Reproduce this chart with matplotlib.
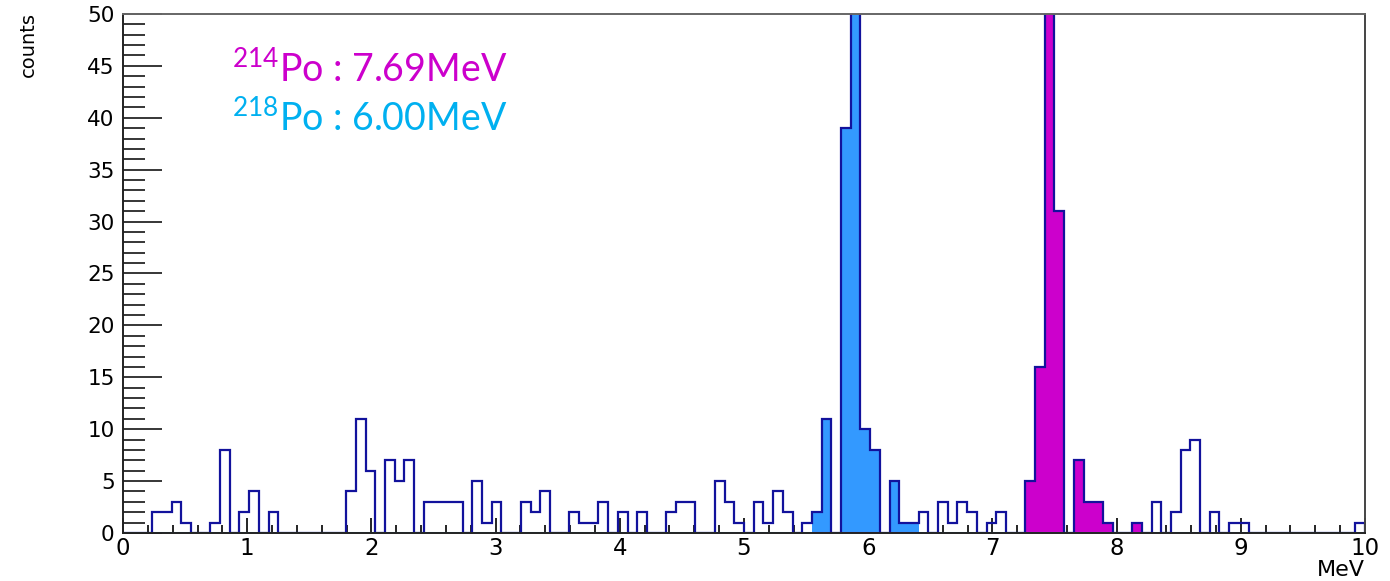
import numpy as np
import matplotlib
matplotlib.use("Agg")
import matplotlib.pyplot as plt
from matplotlib.ticker import MultipleLocator

# Energy spectrum, 128 bins between 0 and 10 MeV
e_min, e_max, n_bins = 0.0, 10.0, 128
total_counts = [
    0, 0, 0, 2, 2, 3, 1, 0, 0, 1, 8, 0, 2, 4, 0, 2,
    0, 0, 0, 0, 0, 0, 0, 4, 11, 6, 0, 7, 5, 7, 0, 3,
    3, 3, 3, 0, 5, 1, 3, 0, 0, 3, 2, 4, 0, 0, 2, 1,
    1, 3, 0, 2, 0, 2, 0, 0, 2, 3, 3, 0, 0, 5, 3, 1,
    0, 3, 1, 4, 2, 0, 1, 2, 11, 0, 39, 72, 10, 8, 0, 5,
    1, 1, 2, 0, 3, 1, 3, 2, 0, 1, 2, 0, 0, 5, 16, 68,
    31, 0, 7, 3, 3, 1, 0, 0, 1, 0, 3, 0, 2, 8, 9, 0,
    2, 0, 1, 1, 0, 0, 0, 0, 0, 0, 0, 0, 0, 0, 0, 1,
]
# 218Po selection (blue) and 214Po selection (magenta): bin index -> counts
po218_bins = [71, 72, 74, 75, 76, 77, 79, 80, 81]
po218_counts = [2, 11, 39, 72, 10, 8, 5, 1, 1]
po214_bins = [93, 94, 95, 96, 98, 99, 100, 101, 104]
po214_counts = [5, 16, 68, 31, 7, 3, 3, 1, 1]

labels = [r"$\mathregular{^{214}}$Po : 7.69MeV", r"$\mathregular{^{218}}$Po : 6.00MeV"]

navy = "#12129c"
blue = "#3399ff"
magenta = "#cc00cc"
light_blue = "#6ab8ff"

edges = np.linspace(e_min, e_max, n_bins + 1)
po218 = np.zeros(n_bins)
po218[po218_bins] = po218_counts
po214 = np.zeros(n_bins)
po214[po214_bins] = po214_counts

fig = plt.figure(figsize=(13.9, 5.81), dpi=100)
ax = fig.add_axes([0.0885, 0.0826, 0.8935, 0.8934])

ax.stairs(po214, edges, fill=True, color=magenta, zorder=2)
ax.stairs(po218, edges, fill=True, color=blue, zorder=2)
ax.stairs(total_counts, edges, color=navy, linewidth=1.6, zorder=3)

# baseline: light blue, magenta underneath the blue bins
ax.axhline(0, color=light_blue, linewidth=2.2, zorder=4)
mask = po218 > 0
ax.hlines(np.zeros(mask.sum()), edges[:-1][mask], edges[1:][mask],
          color=magenta, linewidth=2.2, zorder=5)

ax.set_xlim(e_min, e_max)
ax.set_ylim(0, 50)
ax.xaxis.set_major_locator(MultipleLocator(1))
ax.xaxis.set_minor_locator(MultipleLocator(0.2))
ax.yaxis.set_major_locator(MultipleLocator(5))
ax.yaxis.set_minor_locator(MultipleLocator(1))

ax.tick_params(axis="x", which="major", direction="in", length=11, width=1.2, pad=3,
               labelsize=16.5, top=False)
ax.tick_params(axis="x", which="minor", direction="in", length=5.5, width=1.2, top=False)
ax.tick_params(axis="y", which="major", direction="in", length=28, width=1.1, pad=6,
               labelsize=15.5, right=False)
ax.tick_params(axis="y", which="minor", direction="in", length=16, width=1.1, right=False)
for lab in ax.get_xticklabels() + ax.get_yticklabels():
    lab.set_family("DejaVu Sans")

ax.spines["left"].set_color("#222222")
ax.spines["bottom"].set_color("#222222")
ax.spines["top"].set_color("#666666")
ax.spines["right"].set_color("#444444")
for s in ax.spines.values():
    s.set_linewidth(1.4)
    s.set_zorder(6)

fig.text(1365 / 1390, 1 - 576 / 581, "MeV", ha="right", va="baseline", fontsize=16,
         family="DejaVu Sans")
fig.text(28 / 1390, 1 - 12 / 581, "counts", ha="center", va="top", rotation=90,
         fontsize=14, family="DejaVu Sans")

plt.rcParams["mathtext.fontset"] = "custom"
fig.text(232 / 1390, 1 - 82 / 581, labels[0], color=magenta, fontsize=27,
         family="Lato", va="baseline", ha="left")
fig.text(232 / 1390, 1 - 131 / 581, labels[1], color="#00b0f0", fontsize=27,
         family="Lato", va="baseline", ha="left")

fig.savefig("out.png", dpi=100)
